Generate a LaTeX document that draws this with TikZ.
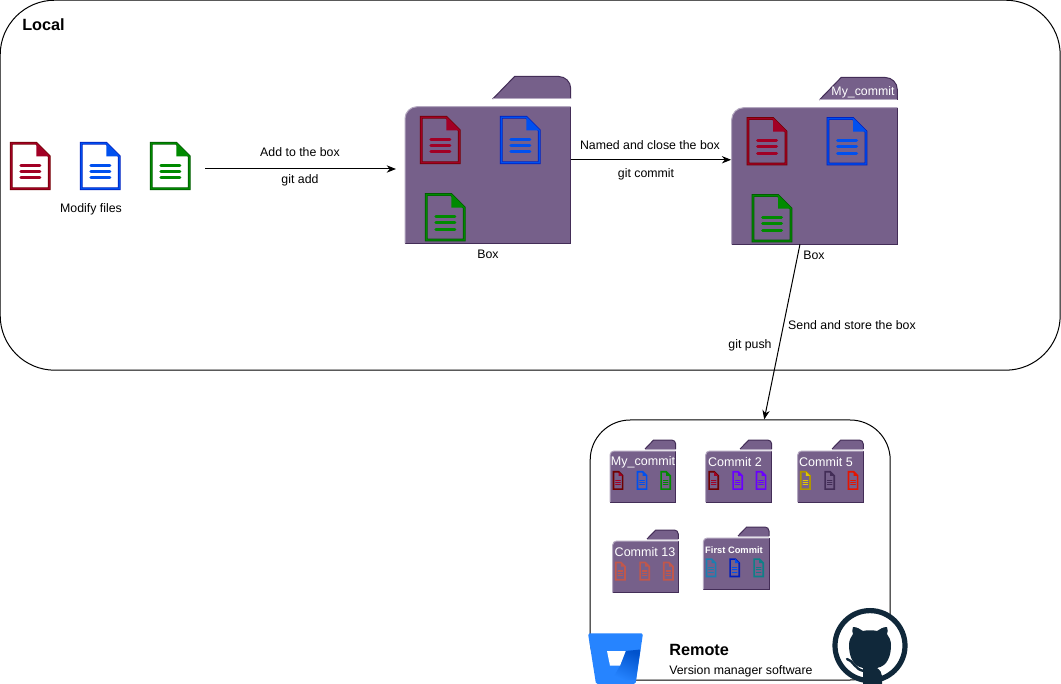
\documentclass[tikz,border=0pt]{standalone}
\usepackage{fontspec}
\setmainfont{Liberation Sans}
\usetikzlibrary{arrows.meta}
\definecolor{foldfill}{HTML}{76608A}
\definecolor{folddark}{HTML}{432D57}
\definecolor{foldlight}{HTML}{B4A8C0}
\definecolor{hubdark}{HTML}{10283A}
\definecolor{bbblue}{HTML}{2684FF}
\definecolor{bbdark}{HTML}{0052CC}
\definecolor{dred}{HTML}{A20025}
\definecolor{dredS}{HTML}{6F0000}
\definecolor{dblue}{HTML}{0050EF}
\definecolor{dblueS}{HTML}{001DBC}
\definecolor{dgreen}{HTML}{008A00}
\definecolor{dgreenS}{HTML}{005700}
\definecolor{dviolet}{HTML}{6A00FF}
\definecolor{dyellow}{HTML}{E3C800}
\definecolor{dyellowS}{HTML}{B09500}
\definecolor{dcrim}{HTML}{E51400}
\definecolor{dsalS}{HTML}{C0574C}
\definecolor{dskyS}{HTML}{1B7FB0}
\definecolor{dtealS}{HTML}{0E8088}
\tikzset{
  lbl/.style={inner sep=0pt,font=\fontsize{9.25}{11}\selectfont,text=black},
  whitelbl/.style={inner sep=0pt,font=\fontsize{9.4}{11}\selectfont,text=white},
  titlelbl/.style={inner sep=0pt,font=\fontsize{12.2}{14}\bfseries\selectfont,text=black},
  container/.style={draw=black,line width=.75pt,fill=white,rectangle,inner sep=0pt},
  conn/.style={draw=black,line width=.75pt,-{Stealth[length=7pt,width=5.5pt]}},
}
% #1 x, #2 y, #3 w, #4 h, #5 fold, #6 line width (px), #7 outline colour, #8 fold colour
\newcommand{\docfile}[8]{%
  \draw[#7,line width=#6*.75pt,line join=miter] (#1,#2) -- (#1+#3-#5,#2) -- (#1+#3,#2+#5) -- (#1+#3,#2+#4) -- (#1,#2+#4) -- cycle;
  \fill[#8] (#1+#3-#5,#2) -- (#1+#3,#2+#5) -- (#1+#3-#5,#2+#5) -- cycle;
  \draw[#8,line width=#4*.066*.75pt,line cap=round] (#1+.25*#3,#2+.493*#4) -- (#1+.75*#3,#2+.493*#4);
  \draw[#8,line width=#4*.066*.75pt,line cap=round] (#1+.25*#3,#2+.625*#4) -- (#1+.75*#3,#2+.625*#4);
  \draw[#8,line width=#4*.066*.75pt,line cap=round] (#1+.25*#3,#2+.758*#4) -- (#1+.75*#3,#2+.758*#4);
}
% #1 x, #2 y, #3 edge colour, #4 main colour
\newcommand{\bigfile}[4]{%
  \docfile{#1}{#2}{38}{45.4}{13}{2.8}{#3}{#4}%
  \draw[#4,line width=1.05pt,line join=miter] (#1,#2) -- (#1+25,#2) -- (#1+38,#2+13) -- (#1+38,#2+45.4) -- (#1,#2+45.4) -- cycle;
}
\newcommand{\tinyfile}[4]{\docfile{#1}{#2}{9.1}{17.3}{4}{1.7}{#3}{#4}}
% #1 name, #2 x0, #3 y0, #4 x1, #5 y1, #6 tab left, #7 tab top, #8 tab bottom, #9 radius
\newcommand{\folderbox}[9]{%
  \fill[foldfill] (#2,#5) -- (#2,#3+#9) .. controls (#2,#3+.45*#9) and (#2+.45*#9,#3) .. (#2+#9,#3) -- (#4,#3) -- (#4,#5) -- cycle;
  \draw[folddark,line width=.75pt] (#2,#5) -- (#4,#5) -- (#4,#3);
  \draw[foldlight,line width=.75pt] (#2,#5) -- (#2,#3+#9) .. controls (#2,#3+.45*#9) and (#2+.45*#9,#3) .. (#2+#9,#3) -- (#4,#3);
  \fill[foldfill] (#6,#8) -- (#6+.28*#4-.28*#6,#7) -- (#4-#9,#7) .. controls (#4-.45*#9,#7) and (#4,#7+.45*#9) .. (#4,#7+#9) -- (#4,#8) -- cycle;
  \draw[folddark,line width=.75pt] (#6,#8) -- (#6+.28*#4-.28*#6,#7) -- (#4-#9,#7) .. controls (#4-.45*#9,#7) and (#4,#7+.45*#9) .. (#4,#7+#9) -- (#4,#8);
  \draw[foldlight,line width=.75pt] (#6,#8) -- (#4,#8);
  \node[inner sep=0pt,outer sep=0pt,rectangle,minimum width={(#4-#2)*.75pt},minimum height={(#5-#3)*.75pt}] (#1) at ({(#2+#4)/2},{(#3+#5)/2}) {};
}
\begin{document}
\begin{tikzpicture}[x=.75pt,y=-.75pt]
\useasboundingbox (0,0) rectangle (1061,684);
\fill[white] (0,0) rectangle (1061,684);

% containers
\node[container,rounded corners=41pt,minimum width=795pt,minimum height=277.5pt] (local) at (530.2,185.2) {};
\node[container,rounded corners=30pt,minimum width=225pt,minimum height=195pt] (remote) at (740.2,550) {};
\node[titlelbl,anchor=west] (localT) at (22,25) {Local};

% loose files
\bigfile{11.3}{143.3}{dredS}{dred}
\bigfile{81.3}{143.3}{dblueS}{dblue}
\bigfile{151.3}{143.3}{dgreenS}{dgreen}
\node[lbl] (modify) at (91,209) {Modify files};

% first box
\folderbox{box1}{405}{106.7}{570.7}{243.5}{492.7}{76.5}{99}{12}
\bigfile{421.3}{117.3}{dredS}{dred}
\bigfile{501.3}{117.3}{dblueS}{dblue}
\bigfile{426.3}{194.6}{dgreenS}{dgreen}
\node[lbl] (box1T) at (488,254) {Box};

% second box
\folderbox{box2}{731.7}{107.7}{897.3}{244.3}{819.3}{77.5}{100}{12}
\bigfile{748}{118.6}{dredS}{dred}
\bigfile{828}{118.6}{dblueS}{dblue}
\bigfile{753}{195.6}{dgreenS}{dgreen}
\node[whitelbl,font=\fontsize{9.25}{11}\selectfont] (tabT) at (863,92) {My\_commit};
\node[lbl] (box2T) at (814,255) {Box};

% connector labels
\node[lbl] (addT) at (300,152) {Add to the box};
\node[lbl] (addC) at (300,180) {git add};
\node[lbl] (namedT) at (650,145) {Named and close the box};
\node[lbl] (commitC) at (646,174) {git commit};
\node[lbl] (sendT) at (852,325) {Send and store the box};
\node[lbl] (pushC) at (750,345) {git push};

% connectors
\coordinate (addS) at (205,169);
\coordinate (addE) at (396,169);
\coordinate (pushS) at ([xshift=-10.9pt]box2.south);
\coordinate (pushE) at ([xshift=18pt]remote.north);
\draw[conn] (addS) -- (addE);
\draw[conn] ([yshift=11.5pt]box1.east) -- ([yshift=11.5pt,xshift=-.4pt]box2.west |- box1.east);
\draw[conn] (pushS) -- (pushE);

% small folders
\folderbox{f1}{610}{451}{675.7}{502}{645}{440}{449}{4}
\tinyfile{613.5}{471.8}{dredS}{dred}
\tinyfile{637.5}{471.8}{dblue}{dblue}
\tinyfile{661.1}{471.8}{dgreen}{dgreen}
\node[whitelbl] (f1T) at (643,462) {My\_commit};

\folderbox{f2}{705.7}{451}{771.7}{502}{740}{440}{449}{4}
\tinyfile{709.1}{471.8}{dredS}{dred}
\tinyfile{733.1}{471.8}{dviolet}{dviolet}
\tinyfile{756.5}{471.8}{dviolet}{dviolet}
\node[whitelbl] (f2T) at (735,462) {Commit 2};

\folderbox{f3}{797.7}{451}{863.3}{502}{832}{440}{449}{4}
\tinyfile{800.8}{471.8}{dyellowS}{dyellow}
\tinyfile{825.1}{471.8}{folddark}{folddark}
\tinyfile{848.5}{471.8}{dcrim}{dcrim}
\node[whitelbl] (f3T) at (826,462) {Commit 5};

\folderbox{f4}{612.7}{541}{678.3}{592.7}{647}{530}{539}{4}
\tinyfile{615.8}{562.5}{dsalS}{dsalS}
\tinyfile{640.1}{562.5}{dsalS}{dsalS}
\tinyfile{663.8}{562.5}{dsalS}{dsalS}
\node[whitelbl] (f4T) at (645,552) {Commit 13};

\folderbox{f5}{703.3}{538}{769}{589.3}{738}{527}{536}{4}
\tinyfile{706.5}{559.1}{dskyS}{dskyS}
\tinyfile{730.1}{559.1}{dblueS}{dblue}
\tinyfile{754.1}{559.1}{dtealS}{dtealS}
\node[whitelbl,font=\fontsize{7}{9}\bfseries\selectfont] (f5T) at (734,550) {First Commit};

% remote text
\node[titlelbl,anchor=west] (remoteT) at (669,650) {Remote};
\node[lbl,anchor=west] (verT) at (669,671) {Version manager software};

% Bitbucket logo
\fill[bbblue,rounded corners=1.2pt] (588,633.3) -- (643,633.3) -- (635.5,684) -- (596,684) -- cycle;
\shade[top color=bbdark,bottom color=bbblue,shading angle=-25] (625.7,651) -- (640.4,649.5) -- (636,680) -- (612,680) -- (620,665.7) -- cycle;
\fill[white] (607,651) -- (625.7,651) -- (620,665.7) -- (610,665.7) -- cycle;

% GitHub logo
\draw[hubdark,fill=white,line width=3.9pt] (870,645.6) circle (35);
\fill[hubdark] (863,684) -- (863,668) .. controls (852,666) and (849,655) .. (849,645)
  .. controls (849,640) and (851,637) .. (853,634) .. controls (852,632) and (852,630) .. (853,627)
  .. controls (857,627) and (860,629) .. (863,631) .. controls (867,630) and (873,630) .. (877,631)
  .. controls (880,629) and (883,627) .. (887,627) .. controls (888,630) and (888,632) .. (887,634)
  .. controls (889,637) and (891,640) .. (891,645) .. controls (891,655) and (888,666) .. (877,668)
  .. controls (880,670) and (882,673) .. (882,676) -- (882,684) -- cycle;
\draw[hubdark,line width=1.8pt,line cap=round] (847,659) .. controls (853,660) and (855,670) .. (864,671);
\end{tikzpicture}
\end{document}
